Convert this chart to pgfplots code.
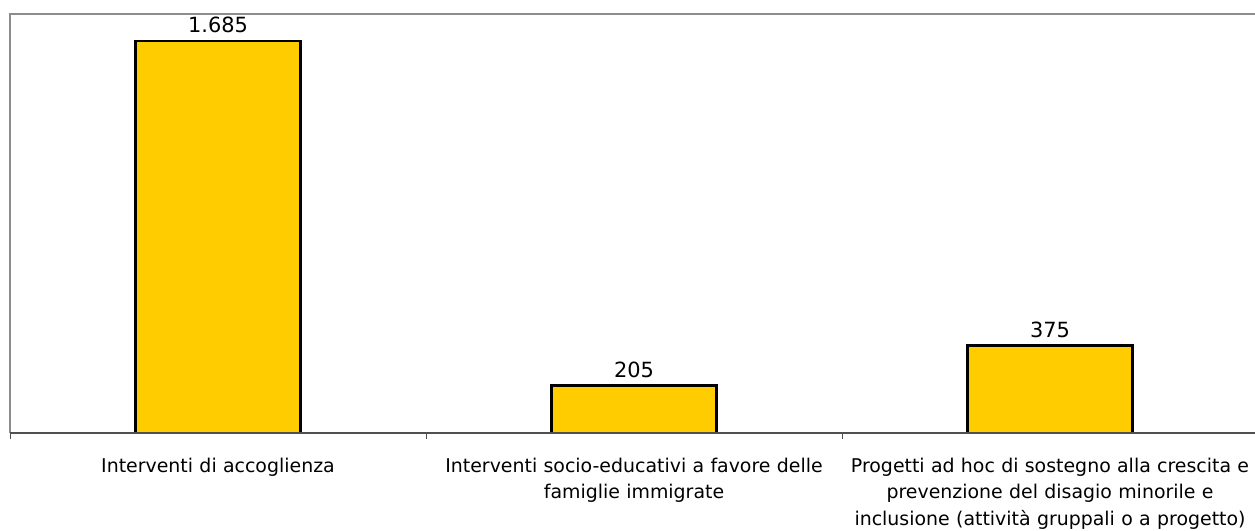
\documentclass[border=0pt]{standalone}
\usepackage{pgfplots}
\pgfplotsset{compat=1.18}
\usepackage{fontspec}
\setmainfont{DejaVu Sans}
\definecolor{baryellow}{HTML}{FFCC00}
\definecolor{frame}{HTML}{8C8C8C}
\definecolor{baseaxis}{HTML}{505050}
\begin{document}
\begin{tikzpicture}[x=1bp,y=1bp]
\path[use as bounding box] (0,0) rectangle (1255,531);
\begin{axis}[
  at={(10bp,98bp)}, anchor=south west,
  scale only axis, width=1248bp, height=419bp,
  xmin=0, xmax=3, ymin=0, ymax=1800,
  axis line style={draw=none},
  ytick=\empty,
  xtick={0.5,1.5,2.5},
  xticklabels={{Interventi di accoglienza},{Interventi socio-educativi a favore delle\\famiglie immigrate},{Progetti ad hoc di sostegno alla crescita e\\prevenzione del disagio minorile e\\inclusione (attività gruppali o a progetto)}},
  major tick length=0pt,
  minor xtick={0,1,2,3},
  minor tick length=6bp,
  xtick pos=bottom,
  tick align=outside,
  minor tick style={baseaxis, line width=1pt},
  xticklabel style={font=\fontsize{19}{26.5}\selectfont, align=center, text width=420bp, inner sep=0pt, yshift=-25bp, anchor=north},
  clip=false,
  nodes near coords,
  every node near coord/.append style={font=\fontsize{21}{25}\selectfont, text=black, yshift=3bp},
  point meta=explicit symbolic,
]
\addplot[ybar, bar width=0.397, fill=baryellow, draw=black, line width=2.5bp]
  coordinates {(0.5,1685)[1.685] (1.5,205)[205] (2.5,375)[375]};
\draw[frame, line width=2bp] (rel axis cs:0,0) -- (rel axis cs:0,1) -- (rel axis cs:1,1);
\draw[baseaxis, line width=1.5bp] (rel axis cs:0,0) -- (rel axis cs:1,0);
\end{axis}
\end{tikzpicture}
\end{document}
